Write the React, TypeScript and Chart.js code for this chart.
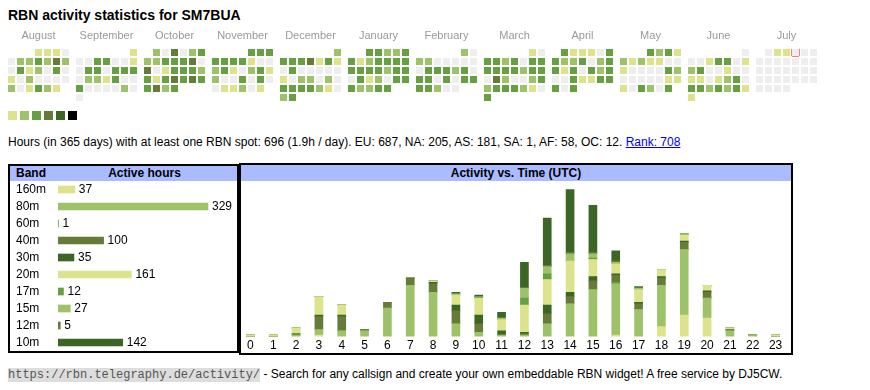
import React, { useEffect, useRef } from "react";
import { Chart, registerables } from "chart.js";

Chart.register(...registerables);

const FONT = "'Liberation Sans', Arial, Helvetica, sans-serif";
const MONO = "'Liberation Mono', 'DejaVu Sans Mono', monospace";

// ---------- calendar heatmap: activity level per day (0 = none) ----------
const monthLabels = ["August", "September", "October", "November", "December", "January", "February", "March", "April", "May", "June", "July"];
const monthYears = [2024, 2024, 2024, 2024, 2024, 2025, 2025, 2025, 2025, 2025, 2025, 2025];
const monthIndex = [7, 8, 9, 10, 11, 0, 1, 2, 3, 4, 5, 6];

const augLv = [1, 1, 1, 0, 0, 2, 2, 3, 2, 4, 2, 0, 3, 1, 2, 0, 3, 0, 1, 0, 2, 0, 0, 0, 0, 2, 0, 1, 3, 2, 1];
const sepLv = [1, 0, 0, 3, 3, 0, 0, 1, 0, 3, 3, 0, 3, 3, 3, 0, 2, 2, 1, 3, 0, 0, 3, 0, 0, 0, 0, 2, 0, 0];
const octLv = [2, 0, 4, 0, 2, 3, 2, 2, 3, 3, 3, 4, 0, 4, 0, 1, 3, 3, 3, 2, 3, 1, 3, 4, 3, 4, 3, 3, 4, 2, 3];
const novLv = [3, 3, 3, 3, 3, 3, 3, 1, 0, 0, 2, 3, 1, 0, 2, 3, 1, 2, 0, 0, 3, 0, 3, 0, 0, 1, 1, 2, 0, 1];
const decLv = [2, 3, 3, 3, 4, 1, 3, 1, 0, 3, 0, 0, 0, 0, 0, 1, 0, 2, 2, 0, 2, 0, 3, 3, 3, 3, 2, 1, 0, 2, 3];
const janLv = [3, 3, 2, 2, 3, 3, 1, 2, 3, 3, 3, 3, 3, 3, 3, 3, 2, 3, 3, 0, 3, 1, 2, 0, 3, 3, 3, 2, 2, 3, 3];
const febLv = [2, 0, 2, 2, 0, 0, 0, 0, 0, 0, 3, 3, 3, 2, 3, 0, 3, 3, 0, 3, 0, 3, 3, 3, 3, 2, 0, 0];
const marLv = [1, 0, 3, 3, 2, 3, 0, 3, 3, 3, 3, 3, 3, 2, 3, 3, 0, 4, 2, 0, 0, 2, 3, 2, 3, 3, 3, 2, 1, 0, 3];
const aprLv = [3, 1, 1, 1, 0, 3, 3, 2, 2, 3, 0, 2, 3, 3, 1, 3, 0, 3, 2, 3, 0, 0, 3, 1, 1, 3, 3, 3, 0, 3];
const mayLv = [3, 2, 3, 1, 2, 1, 2, 1, 1, 0, 0, 1, 0, 0, 0, 0, 3, 2, 0, 0, 0, 0, 0, 1, 1, 1, 0, 3, 2, 0, 3];
const junLv = [0, 0, 0, 1, 3, 3, 0, 1, 2, 3, 0, 0, 1, 0, 0, 1, 1, 0, 1, 2, 3, 0, 3, 3, 2, 3, 2, 3, 1, 1];
const julLv = [0, 1, 1, 0, 0, 0, 0, 0, 0, 0, 0, 0, 0, 0, 0, 0, 0, 0, 0, 0, 0, 0, 0, 0, 0, 0, 0, 0, 0, 0, 0];
const monthLevels = [augLv, sepLv, octLv, novLv, decLv, janLv, febLv, marLv, aprLv, mayLv, junLv, julLv];

const todayMonth = 11;
const todayDay = 4;

const levelColors = ["#eeeeee", "#dce38b", "#9dc26a", "#67a043", "#667b3a", "#3b6626"];
const legendColors = ["#dce38b", "#9dc26a", "#67a043", "#667b3a", "#3b6626", "#000000"];

// ---------- bands ----------
const bands = ["160m", "80m", "60m", "40m", "30m", "20m", "17m", "15m", "12m", "10m"];
const bandHours = [37, 329, 1, 100, 35, 161, 12, 27, 5, 142];
const bandColors = ["#dce38b", "#9dc26a", "#67a043", "#667b3a", "#3b6626", "#dce38b", "#67a043", "#9dc26a", "#667b3a", "#3b6626"];

// ---------- activity vs. time (UTC) ----------
const hourLabels = ["0", "1", "2", "3", "4", "5", "6", "7", "8", "9", "10", "11", "12", "13", "14", "15", "16", "17", "18", "19", "20", "21", "22", "23"];
const h160m = [0, 0, 0, 1, 0, 0, 0, 0, 0, 0, 0, 0, 0, 0, 0, 0, 1, 0, 7, 15, 13, 0, 0, 0];
const h80m = [0, 0, 1, 4, 4, 4, 20, 36, 31, 9, 3, 1, 1, 9, 23, 33, 36, 19, 29, 46, 14, 4, 1, 0];
const h60m = [0, 0, 0, 0, 0, 0, 0, 0, 0, 0, 0, 0, 0, 0, 0, 0, 1, 0, 0, 0, 0, 0, 0, 0];
const h40m = [0, 0, 1, 9, 10, 1, 4, 5, 6, 9, 6, 0, 1, 7, 5, 6, 5, 4, 5, 5, 4, 1, 0, 0];
const h30m = [0, 0, 0, 1, 1, 0, 0, 0, 1, 4, 6, 3, 1, 6, 3, 3, 1, 1, 1, 1, 1, 0, 0, 0];
const h20m = [1, 1, 4, 13, 7, 0, 0, 0, 1, 7, 12, 8, 19, 18, 22, 12, 7, 9, 5, 4, 4, 1, 0, 1];
const h17m = [0, 0, 0, 0, 0, 0, 0, 0, 0, 0, 1, 0, 5, 4, 0, 1, 0, 0, 0, 0, 0, 0, 0, 0];
const h15m = [0, 0, 0, 0, 0, 0, 0, 0, 0, 1, 0, 1, 7, 5, 5, 3, 1, 1, 0, 1, 0, 0, 0, 0];
const h12m = [0, 0, 0, 0, 0, 0, 0, 0, 0, 0, 0, 0, 0, 1, 1, 1, 1, 0, 0, 0, 0, 0, 0, 0];
const h10m = [0, 0, 0, 0, 0, 0, 0, 0, 0, 1, 1, 4, 18, 33, 44, 33, 7, 1, 0, 0, 0, 0, 0, 0];
const hourSeries = [h160m, h80m, h60m, h40m, h30m, h20m, h17m, h15m, h12m, h10m];

// ---------- layout helpers (page pixel geometry) ----------
const MONTH_LEFT = 8;
const MONTH_PITCH = 68;
const CELL_PITCH = 9;
const CELL = 7;
const ROW_TOP = 49;

function cellPos(m: number, dayIdx: number) {
  const first = (new Date(monthYears[m], monthIndex[m], 1).getDay() + 6) % 7;
  const pos = first + dayIdx;
  return {
    x: MONTH_LEFT + MONTH_PITCH * m + CELL_PITCH * (pos % 7) + CELL / 2,
    y: ROW_TOP + CELL_PITCH * Math.floor(pos / 7) + CELL / 2,
  };
}

const valueLabels = {
  id: "valueLabels",
  afterDatasetsDraw(chart: any) {
    const ctx = chart.ctx;
    const meta = chart.getDatasetMeta(0);
    ctx.save();
    ctx.font = `12px ${FONT}`;
    ctx.fillStyle = "#000";
    ctx.textBaseline = "middle";
    ctx.textAlign = "left";
    meta.data.forEach((bar: any, i: number) => {
      ctx.fillText(String(chart.data.datasets[0].data[i]), bar.x + 4, bar.y);
    });
    ctx.restore();
  },
};

export default function App() {
  const heatRef = useRef<HTMLCanvasElement>(null);
  const bandRef = useRef<HTMLCanvasElement>(null);
  const hourRef = useRef<HTMLCanvasElement>(null);

  useEffect(() => {
    Chart.defaults.font.family = FONT;

    const cells: { x: number; y: number }[] = [];
    const cellColors: string[] = [];
    monthLevels.forEach((levels, m) => {
      levels.forEach((lv, d) => {
        cells.push(cellPos(m, d));
        cellColors.push(levelColors[lv]);
      });
    });
    const today = cellPos(todayMonth, todayDay - 1);
    const legendPts = legendColors.map((_, k) => ({ x: 8 + 12 * k + 4.5, y: 111 + 4.5 }));
    const monthCenters = monthLabels.map((_, m) => MONTH_LEFT + MONTH_PITCH * m + (7 * CELL_PITCH - 2) / 2);

    const heat = new Chart(heatRef.current!, {
      type: "scatter",
      data: {
        datasets: [
          {
            data: cells,
            pointStyle: "rect",
            pointRadius: CELL / 2 / Math.SQRT1_2,
            pointBackgroundColor: cellColors,
            backgroundColor: cellColors,
            pointBorderWidth: 0,
            borderWidth: 0,
          },
          {
            data: [today],
            pointStyle: "rect",
            pointRadius: CELL / 2 / Math.SQRT1_2,
            pointBackgroundColor: "#ffffff",
            pointBorderColor: "#ee0000",
            pointBorderWidth: 1,
          },
          {
            data: legendPts,
            pointStyle: "rect",
            pointRadius: 4.5 / Math.SQRT1_2,
            pointBackgroundColor: legendColors,
            backgroundColor: legendColors,
            pointBorderWidth: 0,
            borderWidth: 0,
          },
        ],
      },
      options: {
        animation: false,
        responsive: false,
        events: [],
        layout: { padding: 0, autoPadding: false },
        plugins: { legend: { display: false }, tooltip: { enabled: false } },
        scales: {
          x: {
            type: "linear",
            position: "top",
            min: 0,
            max: 860,
            grid: { display: false, drawTicks: false },
            border: { display: false },
            afterBuildTicks: (s: any) => {
              s.ticks = monthCenters.map((v) => ({ value: v }));
            },
            afterFit: (s: any) => {
              s.height = 24;
              s.paddingLeft = 0;
              s.paddingRight = 0;
            },
            ticks: {
              autoSkip: false,
              maxRotation: 0,
              padding: 6,
              color: "#999999",
              font: { size: 11, family: FONT },
              callback: (_v: any, i: number) => monthLabels[i],
            },
          },
          y: { type: "linear", display: false, reverse: true, min: 49, max: 125 },
        },
      },
    } as any);

    const band = new Chart(bandRef.current!, {
      type: "bar",
      data: {
        labels: bands,
        datasets: [
          {
            data: bandHours,
            backgroundColor: bandColors,
            borderWidth: 0,
            barThickness: 7,
          },
        ],
      },
      options: {
        indexAxis: "y",
        animation: false,
        responsive: false,
        events: [],
        layout: { padding: { left: 0, right: 18, top: 0, bottom: 0 }, autoPadding: false },
        plugins: { legend: { display: false }, tooltip: { enabled: false } },
        scales: {
          x: { display: false, min: 0, max: 351 },
          y: {
            grid: { display: false, drawTicks: false },
            border: { display: false },
            afterFit: (s: any) => {
              s.width = 42;
              s.paddingTop = 0;
              s.paddingBottom = 0;
            },
            ticks: { color: "#000", font: { size: 12, family: FONT }, crossAlign: "far", padding: 0, autoSkip: false },
          },
        },
      },
      plugins: [valueLabels],
    } as any);

    const hour = new Chart(hourRef.current!, {
      type: "bar",
      data: {
        labels: hourLabels,
        datasets: bands.map((b, i) => ({
          label: b,
          data: hourSeries[i],
          backgroundColor: bandColors[i],
          borderWidth: 0,
          barThickness: 8,
        })),
      },
      options: {
        animation: false,
        responsive: false,
        events: [],
        layout: { padding: { left: 1, right: 1, top: 0, bottom: 0 }, autoPadding: false },
        plugins: { legend: { display: false }, tooltip: { enabled: false } },
        scales: {
          x: {
            stacked: true,
            grid: { display: false, drawTicks: false },
            border: { display: false },
            afterFit: (s: any) => {
              s.paddingLeft = 0;
              s.paddingRight = 0;
            },
            ticks: { color: "#000", font: { size: 12, family: FONT }, padding: 2, maxRotation: 0, autoSkip: false },
          },
          y: { stacked: true, display: false, min: 0, max: 109 },
        },
      },
    } as any);

    return () => {
      heat.destroy();
      band.destroy();
      hour.destroy();
    };
  }, []);

  return (
    <div
      style={{
        position: "absolute",
        left: 0,
        top: 0,
        width: 870,
        height: 390,
        fontFamily: FONT,
        color: "#000",
        background: "#fff",
        overflow: "hidden",
      }}
    >
      <div style={{ position: "absolute", left: 8, top: 7, fontSize: 14, fontWeight: "bold", lineHeight: "16px", whiteSpace: "nowrap" }}>
        RBN activity statistics for SM7BUA
      </div>

      <canvas ref={heatRef} width={860} height={100} style={{ position: "absolute", left: 0, top: 25, width: 860, height: 100 }} />

      <div style={{ position: "absolute", left: 8, top: 135, fontSize: 12, lineHeight: "14px", whiteSpace: "nowrap" }}>
        Hours (in 365 days) with at least one RBN spot: 696 (1.9h / day). EU: 687, NA: 205, AS: 181, SA: 1, AF: 58, OC: 12.{" "}
        <a href="#" style={{ color: "#0000ee", textDecoration: "underline" }}>
          Rank: 708
        </a>
      </div>

      {/* left box: bands */}
      <div style={{ position: "absolute", left: 8, top: 164, width: 231, height: 189, boxSizing: "border-box", border: "2px solid #000" }}>
        <div style={{ position: "absolute", left: 0, top: 0, right: 0, height: 15, background: "#aabbff" }} />
        <div style={{ position: "absolute", left: 6, top: 0, fontSize: 12, fontWeight: "bold", lineHeight: "15px" }}>Band</div>
        <div style={{ position: "absolute", left: 42, top: 0, width: 185, textAlign: "center", fontSize: 12, fontWeight: "bold", lineHeight: "15px" }}>
          Active hours
        </div>
      </div>

      {/* right box: activity vs time */}
      <div style={{ position: "absolute", left: 239, top: 163, width: 554, height: 192, boxSizing: "border-box", border: "2px solid #000" }}>
        <div style={{ position: "absolute", left: 0, top: 0, right: 0, height: 16, background: "#aabbff" }} />
        <div style={{ position: "absolute", left: 0, top: 0, right: 0, textAlign: "center", fontSize: 12, fontWeight: "bold", lineHeight: "16px" }}>
          Activity vs. Time (UTC)
        </div>
      </div>

      <canvas ref={bandRef} width={220} height={170} style={{ position: "absolute", left: 16, top: 181, width: 220, height: 170 }} />
      <canvas ref={hourRef} width={550} height={174} style={{ position: "absolute", left: 238, top: 181, width: 550, height: 174 }} />

      <div style={{ position: "absolute", left: 8, top: 365, fontSize: 12, lineHeight: "18px", whiteSpace: "nowrap" }}>
        <span style={{ fontFamily: MONO, fontSize: 12, background: "#dddddd", color: "#555555" }}>https://rbn.telegraphy.de/activity/</span> - Search for
        any callsign and create your own embeddable RBN widget! A free service by DJ5CW.
      </div>
    </div>
  );
}
